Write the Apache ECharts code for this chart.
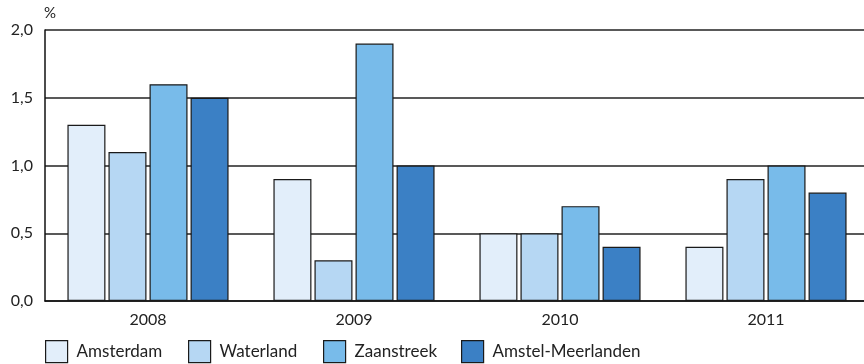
<!DOCTYPE html>
<html>
<head>
<meta charset="utf-8">
<script src="https://cdn.jsdelivr.net/npm/echarts@6/dist/echarts.min.js"></script>
<style>
  html, body { margin: 0; padding: 0; background: #fff; }
  #chart { width: 864px; height: 364px; }
</style>
</head>
<body>
<div id="chart"></div>
<script>
var years = ['2008', '2009', '2010', '2011'];
var amsterdam = [1.3, 0.9, 0.5, 0.4];
var waterland = [1.1, 0.3, 0.5, 0.9];
var zaanstreek = [1.6, 1.9, 0.7, 1.0];
var amstelMeerlanden = [1.5, 1.0, 0.4, 0.8];

var names = ['Amsterdam', 'Waterland', 'Zaanstreek', 'Amstel-Meerlanden'];
var colors = ['#e2eefa', '#b6d7f3', '#78bbea', '#3b80c5'];
var values = [amsterdam, waterland, zaanstreek, amstelMeerlanden];
var legendLeft = [45, 188, 323, 461];

var font = 'Lato, "Noto Sans", sans-serif';

var series = names.map(function (n, i) {
    return {
        name: n,
        type: 'bar',
        data: values[i],
        barWidth: 38,
        barGap: '8%',
        itemStyle: {
            color: colors[i],
            borderColor: '#1a1a1a',
            borderWidth: 1.2
        }
    };
});

// one legend per item, the reference spaces them unevenly
var legends = names.map(function (n, i) {
    return {
        top: 340,
        left: legendLeft[i],
        padding: 0,
        itemWidth: 22,
        itemHeight: 22,
        icon: 'rect',
        itemStyle: { borderColor: '#1a1a1a', borderWidth: 1.2 },
        textStyle: { fontSize: 17, color: '#222', fontFamily: font, padding: [0, 0, 0, 4] },
        data: [n]
    };
});

var chart = echarts.init(document.getElementById('chart'));
chart.setOption({
    animation: false,
    textStyle: { fontFamily: font },
    // the plot runs a little past the right edge in the reference
    grid: { left: 45, top: 30, right: -5, bottom: 63, outerBoundsMode: 'none' },
    legend: legends,
    xAxis: {
        type: 'category',
        data: years,
        axisLine: { lineStyle: { color: '#111', width: 1.5 } },
        axisTick: { show: false },
        axisLabel: { fontSize: 16, color: '#222', margin: 11 }
    },
    yAxis: {
        type: 'value',
        min: 0,
        max: 2,
        interval: 0.5,
        name: '%',
        nameLocation: 'end',
        nameGap: 9,
        nameTextStyle: { fontSize: 15, color: '#222', align: 'left', padding: [0, 0, 0, -1] },
        axisLine: { show: true, lineStyle: { color: '#111', width: 1.5 } },
        axisTick: { show: false },
        axisLabel: {
            fontSize: 16,
            color: '#222',
            margin: 12,
            formatter: function (v) { return v.toFixed(1).replace('.', ','); }
        },
        splitLine: { lineStyle: { color: '#222', width: 1.5 } }
    },
    series: series
});
</script>
</body>
</html>
